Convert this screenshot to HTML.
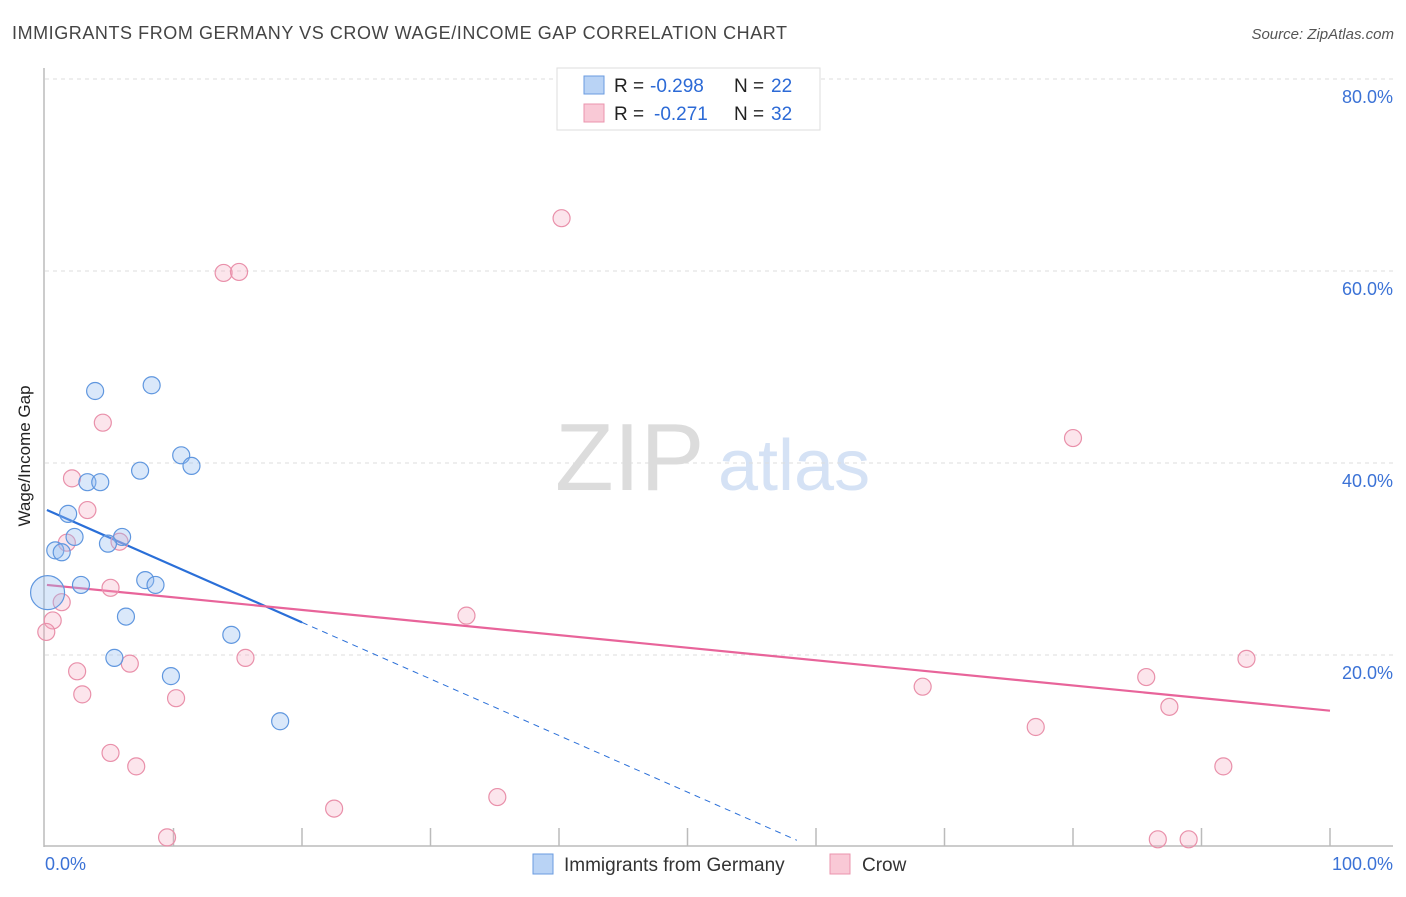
<!DOCTYPE html>
<html><head><meta charset="utf-8"><style>
body{margin:0;background:#fff;font-family:"Liberation Sans",sans-serif;}
svg text{font-family:"Liberation Sans",sans-serif;}
</style></head><body>
<svg id="chart" width="1406" height="892" viewBox="0 0 1406 892" xmlns="http://www.w3.org/2000/svg">
<text x="12" y="39" font-size="18" fill="#444" textLength="775">IMMIGRANTS FROM GERMANY VS CROW WAGE/INCOME GAP CORRELATION CHART</text>
<text x="1394" y="39" font-size="15" fill="#555" font-style="italic" text-anchor="end">Source: ZipAtlas.com</text>
<g>
<text x="555" y="490" font-size="96" fill="#dcdcdc" font-family="Liberation Serif, serif">ZIP</text>
<text x="718" y="490" font-size="72" fill="#d5e2f5">atlas</text>
</g>
<g id="grid"></g>
<g id="axes"></g>
<text transform="translate(30,456) rotate(-90)" font-size="17" fill="#222" text-anchor="middle">Wage/Income Gap</text>
<g id="lines"></g>
<g id="points"></g>
<g>
<rect x="557" y="68" width="263" height="62" fill="#fff" stroke="#ddd"/>
<rect x="584" y="76" width="20" height="18" fill="#b9d3f5" stroke="#6a9be0"/>
<text x="614" y="92" font-size="19" fill="#222">R =</text>
<text x="650" y="92" font-size="19" fill="#2c6ad6">-0.298</text>
<text x="734" y="92" font-size="19" fill="#222">N =</text>
<text x="771" y="92" font-size="19" fill="#2c6ad6">22</text>
<rect x="584" y="104" width="20" height="18" fill="#f9c9d6" stroke="#eb94ae"/>
<text x="614" y="120" font-size="19" fill="#222">R =</text>
<text x="654" y="120" font-size="19" fill="#2c6ad6">-0.271</text>
<text x="734" y="120" font-size="19" fill="#222">N =</text>
<text x="771" y="120" font-size="19" fill="#2c6ad6">32</text>
</g>
<g>
<rect x="533" y="854" width="20" height="20" fill="#b9d3f5" stroke="#6a9be0"/>
<text x="564" y="871" font-size="19" fill="#333">Immigrants from Germany</text>
<rect x="830" y="854" width="20" height="20" fill="#f9c9d6" stroke="#eb94ae"/>
<text x="862" y="871" font-size="19" fill="#333">Crow</text>
</g>
</svg>
<script>
const yTicks=[20,40,60,80];
const xTickVals=[0,10,20,30,40,50,60,70,80,90,100];
const blueX=[3.9,8.3,10.6,11.4,7.4,3.3,4.3,1.8,2.3,6.0,4.9,0.8,1.3,2.8,7.8,8.6,6.3,14.5,5.4,9.8,18.3,0.2];
const blueY=[47.5,48.1,40.8,39.7,39.2,38.0,38.0,34.7,32.3,32.3,31.6,30.9,30.7,27.3,27.8,27.3,24.0,22.1,19.7,17.8,13.1,26.5];
const pinkX=[40.2,13.9,15.1,4.5,2.1,3.3,1.7,5.8,5.1,1.3,0.6,0.1,32.8,15.6,6.6,2.5,2.9,10.2,5.1,7.1,9.5,22.5,35.2,80.0,68.3,77.1,85.7,87.5,93.5,91.7,86.6,89.0];
const pinkY=[65.5,59.8,59.9,44.2,38.4,35.1,31.7,31.8,27.0,25.5,23.6,22.4,24.1,19.7,19.1,18.3,15.9,15.5,9.8,8.4,1.0,4.0,5.2,42.6,16.7,12.5,17.7,14.6,19.6,8.4,0.8,0.8];
const blueLine=[35.1,23.4];
const pinkLine=[27.3,14.2];
const NS="http://www.w3.org/2000/svg";
const X=v=>45+v*12.85, Y=v=>847-v*9.6;
function mk(t,a,p){const e=document.createElementNS(NS,t);for(const k in a)e.setAttribute(k,a[k]);p.appendChild(e);return e;}
const grid=document.getElementById('grid'),axes=document.getElementById('axes');
yTicks.forEach(t=>{
 const l=mk('line',{x1:45,x2:1393,y1:Y(t),y2:Y(t),stroke:'#ddd','stroke-dasharray':'4,4'},grid);
 
 
 const tx=mk('text',{x:1393,y:Y(t)+24,'font-size':18,fill:'#3b72d6','text-anchor':'end'},axes);
 tx.textContent=t.toFixed(1)+'%';
 
 
});
mk('line',{x1:44,x2:44,y1:68,y2:847,stroke:'#bbb','stroke-width':1.5},axes);
mk('line',{x1:44,x2:1393,y1:846,y2:846,stroke:'#bbb','stroke-width':1.5},axes);
xTickVals.slice(1).forEach(t=>{
 const l=mk('line',{x1:X(t),x2:X(t),y1:828,y2:846,stroke:'#bbb','stroke-width':1.5},axes);
 
 
});
const xl0=mk('text',{x:45,y:870,'font-size':18,fill:'#3b72d6'},axes);xl0.textContent='0.0%';


const xl1=mk('text',{x:1393,y:870,'font-size':18,fill:'#3b72d6','text-anchor':'end'},axes);xl1.textContent='100.0%';


const pts=document.getElementById('points');
pinkX.forEach((x,i)=>{
 const c=mk('circle',{cx:X(x),cy:Y(pinkY[i]),r:8.5,fill:'rgba(244,170,192,0.3)',stroke:'#e990aa','stroke-width':1.2},pts);
 
 
});
blueX.forEach((x,i)=>{
 const r=i===blueX.length-1?17:8.5;
 const c=mk('circle',{cx:X(x),cy:Y(blueY[i]),r:r,fill:'rgba(150,190,240,0.35)',stroke:'#6097df','stroke-width':1.2},pts);
 
 
});
const lines=document.getElementById('lines');
const bs=(blueLine[1]-blueLine[0])/(20-0.15);
const b1=mk('line',{x1:X(0.15),y1:Y(blueLine[0]),x2:X(20),y2:Y(blueLine[1]),stroke:'#2a6fd8','stroke-width':2.2},lines);


const xEnd=20+(0.7-blueLine[1])/bs;
const b2=mk('line',{x1:X(20),y1:Y(blueLine[1]),x2:X(xEnd),y2:Y(0.7),stroke:'#2a6fd8','stroke-width':1,'stroke-dasharray':'6,5'},lines);


const p1=mk('line',{x1:X(0.15),y1:Y(pinkLine[0]),x2:X(100),y2:Y(pinkLine[1]),stroke:'#e8649a','stroke-width':2.2},lines);


</script>
</body></html>
